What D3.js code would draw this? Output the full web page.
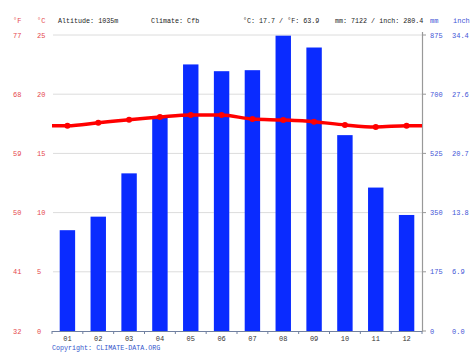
<!DOCTYPE html>
<html><head><meta charset="utf-8">
<script src="https://cdn.jsdelivr.net/npm/d3@7/dist/d3.min.js"></script>
<style>body{margin:0;background:#fff}svg{display:block}text{font-family:"Liberation Mono","DejaVu Sans Mono",monospace}</style>
</head><body>
<svg id="c" width="474" height="355"></svg>
<script>
const months = ["01","02","03","04","05","06","07","08","09","10","11","12"];
const precipMm = [298,338,466,635,788,768,771,873,838,579,424,343];
const tempC = [17.34,17.59,17.85,18.07,18.24,18.24,17.9,17.82,17.68,17.4,17.23,17.34];
const cTicks = [0,5,10,15,20,25];
const fTicks = [32,41,50,59,68,77];
const mmTicks = [0,175,350,525,700,875];
const inchTicks = ["0.0","6.9","13.8","20.7","27.6","34.4"];
const header = {alt:"Altitude: 1035m", climate:"Climate: Cfb", temp:"°C: 17.7 / °F: 63.9", prec:"mm: 7122 / inch: 280.4"};

const svg = d3.select("#c");
const L=52, R=422, T=35, B=331;
const red="#e5484d", blue="#3f55d6";
const x = d3.scaleBand().domain(months).range([L,R]).paddingInner(0.5).paddingOuter(0.25);
const yT = d3.scaleLinear().domain([0,25]).range([B,T]);
const yP = d3.scaleLinear().domain([0,875]).range([B,T]);

// grid
svg.append("g").selectAll("line").data(cTicks.slice(1)).join("line")
  .attr("x1",L+1).attr("x2",R).attr("y1",d=>yT(d)).attr("y2",d=>yT(d))
  .attr("stroke","#dcdcdc").attr("stroke-width",1);

// bars
svg.append("g").selectAll("rect").data(precipMm).join("rect")
  .attr("x",(d,i)=>x(months[i])).attr("width",x.bandwidth())
  .attr("y",d=>yP(d)).attr("height",d=>B-yP(d)).attr("fill","#0a2bff");

// bottom axis
const xAxis = svg.append("g");
xAxis.append("line").attr("x1",L).attr("x2",R).attr("y1",B+0.5).attr("y2",B+0.5).attr("stroke","#7080a0");
const step = x.step();
xAxis.selectAll("line.t").data(d3.range(13)).join("line").attr("class","t")
  .attr("x1",d=>L+d*(R-L)/12).attr("x2",d=>L+d*(R-L)/12).attr("y1",B).attr("y2",B+3).attr("stroke","#7080a0");
xAxis.selectAll("text").data(months).join("text")
  .attr("x",d=>x(d)+x.bandwidth()/2).attr("y",B+10).attr("text-anchor","middle")
  .attr("font-size","7px").attr("fill","#333").text(d=>d);

// right axis
svg.append("line").attr("x1",R+0.5).attr("x2",R+0.5).attr("y1",T-3).attr("y2",B+1).attr("stroke","#999").attr("stroke-width",1.2);
svg.append("g").selectAll("line").data(mmTicks).join("line")
  .attr("x1",R).attr("x2",R+4).attr("y1",d=>yP(d)).attr("y2",d=>yP(d)).attr("stroke","#999");
svg.append("g").selectAll("text").data(mmTicks).join("text")
  .attr("x",430).attr("y",d=>yP(d)+2.5).attr("font-size","7px").attr("fill",blue).text(d=>d);
svg.append("g").selectAll("text").data(inchTicks).join("text")
  .attr("x",452).attr("y",(d,i)=>yP(mmTicks[i])+2.5).attr("font-size","7px").attr("fill",blue).text(d=>d);

// left labels
svg.append("g").selectAll("text").data(cTicks).join("text")
  .attr("x",37).attr("y",d=>yT(d)+2.5).attr("font-size","7px").attr("fill",red).text(d=>d);
svg.append("g").selectAll("text").data(fTicks).join("text")
  .attr("x",13).attr("y",(d,i)=>yT(cTicks[i])+2.5).attr("font-size","7px").attr("fill",red).text(d=>d);

// temperature line
const pts = [[L,tempC[0]]].concat(tempC.map((t,i)=>[x(months[i])+x.bandwidth()/2,t])).concat([[R,tempC[tempC.length-1]]]);
svg.append("path").datum(pts)
  .attr("d",d3.line().x(d=>d[0]).y(d=>yT(d[1])).curve(d3.curveMonotoneX))
  .attr("fill","none").attr("stroke","#ff0000").attr("stroke-width",3.5);
svg.append("g").selectAll("circle").data(tempC).join("circle")
  .attr("cx",(d,i)=>x(months[i])+x.bandwidth()/2).attr("cy",d=>yT(d)).attr("r",3).attr("fill","#ff0000");

// header
const hy=23;
svg.append("text").attr("x",13).attr("y",hy).attr("font-size","7px").attr("fill",red).text("°F");
svg.append("text").attr("x",37).attr("y",hy).attr("font-size","7px").attr("fill",red).text("°C");
svg.append("text").attr("x",58).attr("y",hy).attr("font-size","6.7px").attr("fill","#222").text(header.alt);
svg.append("text").attr("x",151).attr("y",hy).attr("font-size","6.7px").attr("fill","#222").text(header.climate);
svg.append("text").attr("x",243).attr("y",hy).attr("font-size","6.7px").attr("fill","#222").text(header.temp);
svg.append("text").attr("x",335).attr("y",hy).attr("font-size","6.7px").attr("fill","#222").text(header.prec);
svg.append("text").attr("x",430).attr("y",hy).attr("font-size","7px").attr("fill",blue).text("mm");
svg.append("text").attr("x",453).attr("y",hy).attr("font-size","7px").attr("fill",blue).text("inch");

svg.append("text").attr("x",52).attr("y",350).attr("font-size","6.7px").attr("fill","#3355cc").text("Copyright: CLIMATE-DATA.ORG");
</script>
</body></html>
